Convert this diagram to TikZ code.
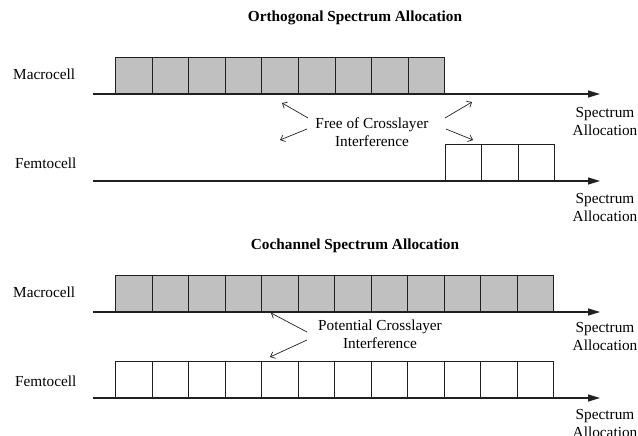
\documentclass[tikz,border=0pt]{standalone}
\usepackage{fontspec}
\setmainfont{Liberation Serif}
\usetikzlibrary{arrows.meta}
\definecolor{cellgray}{HTML}{C0C0C0}
\definecolor{linegray}{HTML}{202020}
\begin{document}
\begin{tikzpicture}[x=1pt,y=-1pt,
  txt/.style={inner sep=0pt, font=\fontsize{15.3}{18}\selectfont},
  titletxt/.style={txt, font=\fontsize{15.3}{18}\selectfont\bfseries},
  macrobox/.style={draw=linegray, line width=0.9pt, fill=cellgray, minimum width=36.5pt, minimum height=36.5pt, inner sep=0pt, anchor=south west},
  femtobox/.style={macrobox, fill=white},
  axisline/.style={draw=linegray, line width=1.1pt, -{Triangle[length=12pt,width=7pt]}},
  pointer/.style={draw=linegray, line width=0.7pt, -{Straight Barb[length=4pt,width=7pt]}}
]
\useasboundingbox (0,0) rectangle (638,436);
% titles
\node[titletxt] (t1) at (355,18) {Orthogonal Spectrum Allocation};
\node[titletxt] (t2) at (355,246) {Cochannel Spectrum Allocation};
% row labels
\node[txt, anchor=west] (m1) at (13,74) {Macrocell};
\node[txt, anchor=west] (f1) at (15,163) {Femtocell};
\node[txt, anchor=west] (m2) at (13,292) {Macrocell};
\node[txt, anchor=west] (f2) at (15,381) {Femtocell};
% boxes
\foreach \i in {0,...,8} {\node[macrobox] (oa\i) at (115+36.6*\i,94) {};}
\foreach \i in {0,...,2} {\node[femtobox] (ob\i) at (445+36.4*\i,181) {};}
\foreach \i in {0,...,11} {\node[macrobox] (ca\i) at (115+36.5*\i,312) {};}
\foreach \i in {0,...,11} {\node[femtobox] (cb\i) at (115+36.5*\i,398) {};}
% axes
\coordinate (ax1s) at (93,94);  \coordinate (ax1e) at (600,94);
\coordinate (ax2s) at (93,181); \coordinate (ax2e) at (600,181);
\coordinate (ax3s) at (93,312); \coordinate (ax3e) at (600,312);
\coordinate (ax4s) at (93,398); \coordinate (ax4e) at (600,398);
\draw[axisline] (ax1s) -- (ax1e);
\draw[axisline] (ax2s) -- (ax2e);
\draw[axisline] (ax3s) -- (ax3e);
\draw[axisline] (ax4s) -- (ax4e);
% axis labels
\node[txt, align=center] (s1) at (605,122) {Spectrum\\Allocation};
\node[txt, align=center] (s2) at (605,207.5) {Spectrum\\Allocation};
\node[txt, align=center] (s3) at (605,337) {Spectrum\\Allocation};
\node[txt, align=center] (s4) at (605,424) {Spectrum\\Allocation};
% annotations
\node[txt, align=center] (free) at (372,132.5) {Free of Crosslayer\\Interference};
\node[txt, align=center] (pot) at (380,334) {Potential Crosslayer\\Interference};
\coordinate (fa1s) at (308,118); \coordinate (fa1e) at (282,103);
\coordinate (fa2s) at (307,129); \coordinate (fa2e) at (280,140);
\coordinate (fa3s) at (445,118); \coordinate (fa3e) at (472,102);
\coordinate (fa4s) at (446,129); \coordinate (fa4e) at (473,140);
\draw[pointer] (fa1s) -- (fa1e);
\draw[pointer] (fa2s) -- (fa2e);
\draw[pointer] (fa3s) -- (fa3e);
\draw[pointer] (fa4s) -- (fa4e);
\coordinate (pa1s) at (307,332); \coordinate (pa1e) at (271,313);
\coordinate (pa2s) at (307,340); \coordinate (pa2e) at (270,357);
\draw[pointer] (pa1s) -- (pa1e);
\draw[pointer] (pa2s) -- (pa2e);
\end{tikzpicture}
\end{document}
